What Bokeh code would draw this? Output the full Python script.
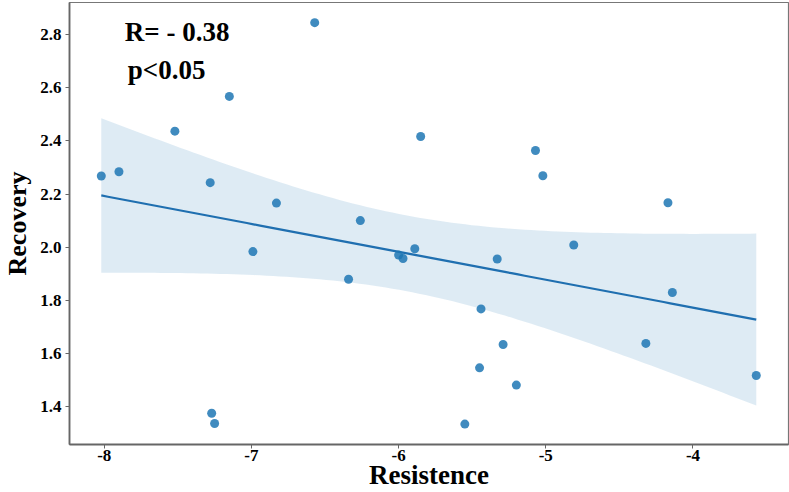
import numpy as np
from bokeh.plotting import figure
from bokeh.models import Range1d, FixedTicker, Label, PrintfTickFormatter
from bokeh.embed import file_html
from bokeh.resources import INLINE

resistence = [-8.02, -7.90, -7.52, -7.28, -7.15, -6.83, -6.57, -6.26, -6.99, -6.34,
              -6.00, -7.27, -7.25, -5.97, -5.89, -4.81, -5.33, -5.44, -5.29, -5.45,
              -5.20, -5.55, -4.14, -4.32, -3.57, -5.85, -5.07, -5.02, -4.17]
recovery = [2.268, 2.284, 2.437, 2.243, 2.568, 2.166, 2.846, 2.100, 1.983, 1.879,
            1.970, 1.374, 1.335, 1.957, 1.994, 2.008, 1.955, 1.767, 1.633, 1.545,
            1.480, 1.333, 1.829, 1.637, 1.516, 2.417, 2.364, 2.269, 2.167]
x_ticks = [-8, -7, -6, -5, -4]
y_ticks = [1.4, 1.6, 1.8, 2.0, 2.2, 2.4, 2.6, 2.8]
annot_r = "R= - 0.38"
annot_p = "p<0.05"

x = np.array(resistence)
y = np.array(recovery)
n = len(x)
slope, intercept = np.polyfit(x, y, 1)
xs = np.linspace(x.min(), x.max(), 100)
ys = intercept + slope * xs
resid = y - (intercept + slope * x)
s = np.sqrt(np.sum(resid ** 2) / (n - 2))
sxx = np.sum((x - x.mean()) ** 2)
t975 = 2.052
half = t975 * s * np.sqrt(1.0 / n + (xs - x.mean()) ** 2 / sxx)

p = figure(width=789, height=492, output_backend="svg", toolbar_location=None,
           x_range=Range1d(-8.236, -3.351), y_range=Range1d(1.256, 2.922),
           min_border_left=0, min_border_right=1, min_border_top=2, min_border_bottom=0)

p.varea(x=xs, y1=ys - half, y2=ys + half, fill_color="#1f77b4", fill_alpha=0.15)
p.line(xs, ys, line_color="#1f6fb0", line_width=2.2)
p.scatter(x, y, size=9, fill_color="#1f77b4", fill_alpha=0.85, line_color=None)

p.add_layout(Label(x=-7.86, y=2.809, text=annot_r, text_font="Liberation Serif",
                   text_font_style="bold", text_font_size="27px", text_baseline="middle",
                   text_color="black"))
p.add_layout(Label(x=-7.84, y=2.667, text=annot_p, text_font="Liberation Serif",
                   text_font_style="bold", text_font_size="27px", text_baseline="middle",
                   text_color="black"))

p.xgrid.visible = False
p.ygrid.visible = False
p.outline_line_color = "#777777"
p.outline_line_width = 1.2

for ax in (p.xaxis[0], p.yaxis[0]):
    ax.axis_line_color = "#666666"
    ax.axis_line_width = 1.8
    ax.major_tick_line_color = "#666666"
    ax.major_tick_out = 4
    ax.major_tick_in = 0
    ax.minor_tick_line_color = None
    ax.major_label_text_font = "Liberation Serif"
    ax.major_label_text_font_style = "bold"
    ax.major_label_text_font_size = "17px"
    ax.major_label_text_color = "black"
    ax.axis_label_text_font = "Liberation Serif"
    ax.axis_label_text_font_style = "bold"
    ax.axis_label_text_color = "black"

p.xaxis[0].ticker = FixedTicker(ticks=x_ticks)
p.yaxis[0].ticker = FixedTicker(ticks=y_ticks)
p.xaxis[0].formatter = PrintfTickFormatter(format="%d")
p.yaxis[0].formatter = PrintfTickFormatter(format="%.1f")
p.xaxis[0].axis_label = "Resistence"
p.yaxis[0].axis_label = "Recovery"
p.xaxis[0].axis_label_text_font_size = "27px"
p.yaxis[0].axis_label_text_font_size = "26px"
p.xaxis[0].major_label_standoff = 1
p.xaxis[0].axis_label_standoff = -4
p.yaxis[0].major_label_standoff = 4
p.yaxis[0].axis_label_standoff = 5

open("out.html", "w").write(file_html(p, INLINE))
